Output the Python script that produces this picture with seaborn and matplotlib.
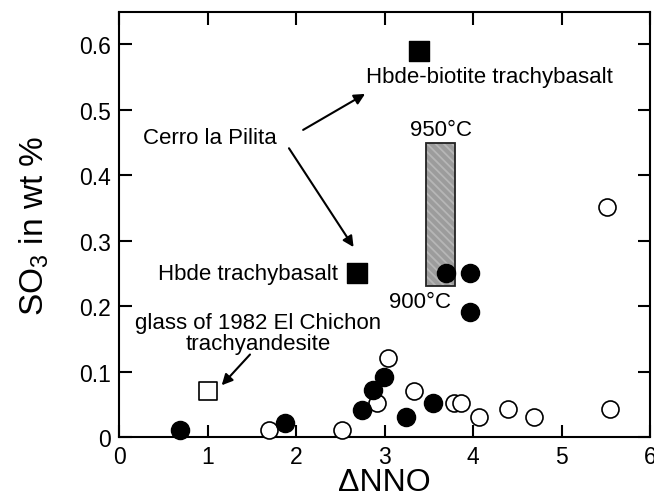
import matplotlib
matplotlib.use("Agg")
import matplotlib.pyplot as plt
import seaborn as sns
import pandas as pd
from matplotlib.patches import Rectangle

# Data
filled_x = [0.69, 1.88, 2.74, 2.87, 2.99, 3.24, 3.55, 3.69, 3.97, 3.97]
filled_y = [0.011, 0.022, 0.041, 0.072, 0.092, 0.031, 0.052, 0.251, 0.251, 0.191]
open_x = [1.70, 2.52, 2.92, 3.04, 3.33, 3.78, 3.86, 4.07, 4.39, 4.69, 5.55, 5.51]
open_y = [0.011, 0.011, 0.052, 0.121, 0.071, 0.052, 0.052, 0.031, 0.042, 0.031, 0.042, 0.351]
pilita_x = [3.39, 2.69]
pilita_y = [0.589, 0.250]
chichon_x = [1.0]
chichon_y = [0.070]
box_x = [3.47, 3.80]
box_y = [0.231, 0.449]
xticks = [0, 1, 2, 3, 4, 5, 6]
yticks = [0, 0.1, 0.2, 0.3, 0.4, 0.5, 0.6]
ytick_labels = ["0", "0.1", "0.2", "0.3", "0.4", "0.5", "0.6"]

sns.set_style("ticks")
plt.rcParams["font.family"] = ["Liberation Sans", "DejaVu Sans"]
plt.rcParams["mathtext.fontset"] = "custom"
plt.rcParams["mathtext.rm"] = "Liberation Sans"
plt.rcParams["hatch.linewidth"] = 1.3
plt.rcParams["text.color"] = "black"
plt.rcParams["axes.labelcolor"] = "black"
plt.rcParams["axes.edgecolor"] = "black"
plt.rcParams["xtick.color"] = "black"
plt.rcParams["ytick.color"] = "black"
plt.rcParams["xtick.direction"] = "in"
plt.rcParams["ytick.direction"] = "in"
plt.rcParams["xtick.major.size"] = 9
plt.rcParams["ytick.major.size"] = 9
plt.rcParams["xtick.major.width"] = 1.5
plt.rcParams["ytick.major.width"] = 1.5
plt.rcParams["xtick.top"] = True
plt.rcParams["ytick.right"] = True

fig = plt.figure(figsize=(6.54, 5.02), dpi=100)
ax = fig.add_axes([0.182, 0.1275, 0.812, 0.8465])

# gray hatched box: fill + light hatch, then black outline
bw = box_x[1] - box_x[0]
bh = box_y[1] - box_y[0]
ax.add_patch(Rectangle((box_x[0], box_y[0]), bw, bh,
                       facecolor="#9c9c9c", edgecolor="#b6b6b6", lw=0,
                       hatch="\\\\\\\\", zorder=1))
ax.add_patch(Rectangle((box_x[0], box_y[0]), bw, bh,
                       facecolor="none", edgecolor="#222222", lw=1.3, zorder=1.1))

df_f = pd.DataFrame({"x": filled_x, "y": filled_y})
df_o = pd.DataFrame({"x": open_x, "y": open_y})
df_p = pd.DataFrame({"x": pilita_x, "y": pilita_y})
df_c = pd.DataFrame({"x": chichon_x, "y": chichon_y})

sns.scatterplot(data=df_o, x="x", y="y", ax=ax, marker="o", s=150,
                facecolor="white", edgecolor="black", linewidth=1.2, clip_on=False, zorder=3)
sns.scatterplot(data=df_f, x="x", y="y", ax=ax, marker="o", s=170,
                color="black", edgecolor="black", linewidth=1.0, clip_on=False, zorder=4)
sns.scatterplot(data=df_p, x="x", y="y", ax=ax, marker="s", s=210,
                color="black", edgecolor="black", linewidth=1.0, clip_on=False, zorder=4)
sns.scatterplot(data=df_c, x="x", y="y", ax=ax, marker="s", s=150,
                facecolor="white", edgecolor="black", linewidth=1.2, clip_on=False, zorder=4)

ax.set_xlim(0, 6)
ax.set_ylim(0, 0.649)
ax.set_xticks(xticks)
ax.set_yticks(yticks)
ax.set_yticklabels(ytick_labels)

ax.tick_params(axis="both", which="major", direction="in", length=9, width=1.5,
               color="black", labelcolor="black", labelsize=16.5, top=True, right=True,
               labeltop=False, labelright=False, pad=6)
ax.tick_params(axis="both", which="minor", length=0)
for s in ax.spines.values():
    s.set_linewidth(1.5)
    s.set_visible(True)
    s.set_color("black")

ax.set_xlabel("ΔNNO", fontsize=23, labelpad=-1)
ax.set_ylabel("SO$_\\mathregular{3}$ in wt %", fontsize=24, labelpad=20)

fs = 16
ax.text(4.18, 0.551, "Hbde-biotite trachybasalt", fontsize=fs, ha="center", va="center")
ax.text(3.64, 0.470, "950°C", fontsize=fs, ha="center", va="center")
ax.text(3.40, 0.207, "900°C", fontsize=fs, ha="center", va="center")
ax.text(1.03, 0.458, "Cerro la Pilita", fontsize=fs, ha="center", va="center")
ax.text(1.46, 0.249, "Hbde trachybasalt", fontsize=fs, ha="center", va="center")
ax.text(1.57, 0.159, "glass of 1982 El Chichon\ntrachyandesite", fontsize=fs,
        ha="center", va="center", linespacing=1.0)

ap = dict(arrowstyle="-|>", color="black", lw=1.5, mutation_scale=16, shrinkA=0, shrinkB=0)
ax.annotate("", xy=(2.78, 0.524), xytext=(2.08, 0.469), arrowprops=ap)
ax.annotate("", xy=(2.65, 0.290), xytext=(1.92, 0.441), arrowprops=ap)
ax.annotate("", xy=(1.16, 0.079), xytext=(1.48, 0.126), arrowprops=ap)

fig.savefig("out.png", dpi=100)
